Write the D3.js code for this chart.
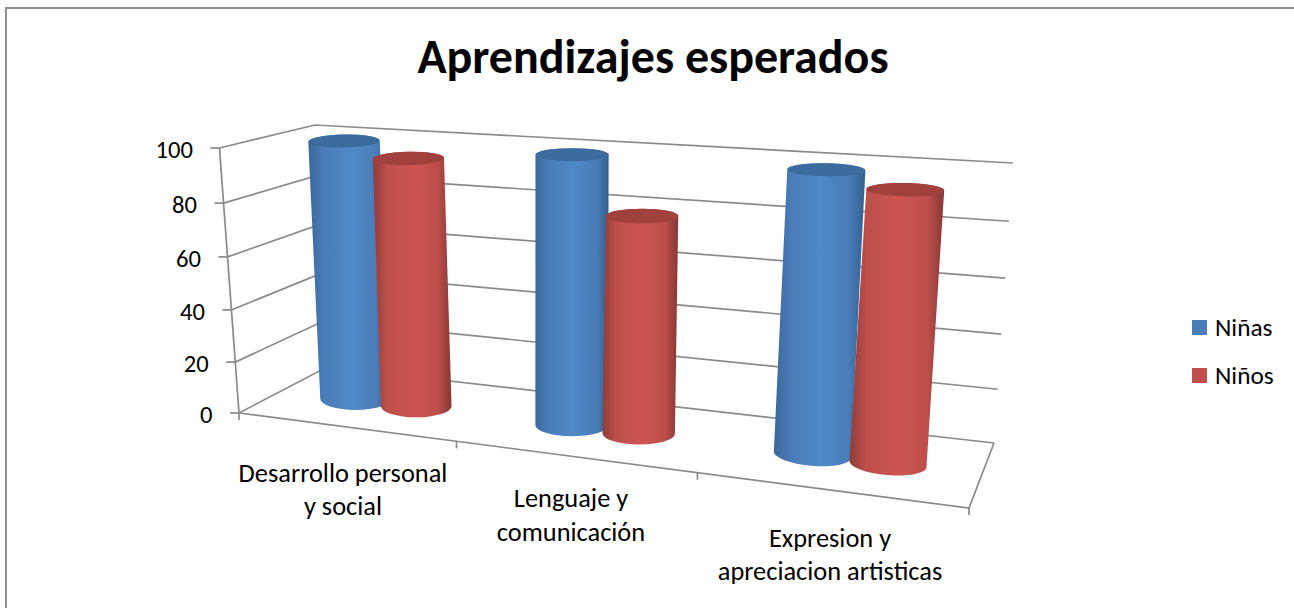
<!DOCTYPE html>
<html><head><meta charset="utf-8">
<style>html,body{margin:0;padding:0;background:#fff}svg{display:block}text{font-family:Carlito,Lato,sans-serif;fill:#000}</style>
<script src="https://cdn.jsdelivr.net/npm/d3@7"></script></head><body>
<svg id="c" width="1294" height="608"></svg>
<script>
const title = "Aprendizajes esperados";
const categories = [["Desarrollo personal","y social"],["Lenguaje y","comunicación"],["Expresion y","apreciacion artisticas"]];
const seriesNames = ["Niñas","Niños"];
const ninas = [100,100,100];
const ninos = [95,80,95];
const valueTicks = [0,20,40,60,80,100];

const colors = ["#4A7CB8","#BE4F4C"];
const dark = ["#33608f","#873735"];
const edge = ["#3a6898","#8e3d3a"];
const mid = ["#5089c9","#cd5451"];
const topFill = ["#3c6c9e","#a1413e"];
const gridColor = "#8a8a8a";

const svg = d3.select("#c");
const defs = svg.append("defs");
[0,1].forEach(i=>{
  const g = defs.append("linearGradient").attr("id","g"+i).attr("x1",0).attr("x2",1).attr("y1",0).attr("y2",0);
  [[0,edge[i]],[.18,colors[i]],[.52,mid[i]],[.82,colors[i]],[1,dark[i]]].forEach(s=>g.append("stop").attr("offset",s[0]).attr("stop-color",s[1]));
});

// frame: only the top and left edges show in the picture
svg.append("path").attr("d",d3.line()([[1294,8],[6,8],[6,608]])).attr("fill","none").attr("stroke","#8e8e8e").attr("stroke-width",2);

// scales: the projected box
const xFrac = d3.scaleLinear().domain([0,1,2,3]).range([0,.298,.628,1]);
const vFrac = d3.scaleLinear().domain(valueTicks).range([0,.192,.389,.589,.792,1]);
const corners = {
  flb:[239,413], flt:[219.5,148], blb:[327,367], blt:[315,125],
  frb:[969,508], frt:[997,198], brb:[994,443], brt:[1013,163]
};
function project(c,d,v){
  const u=xFrac(c), w=vFrac(v);
  const f=(a,b,k)=>[a[0]+(b[0]-a[0])*k,a[1]+(b[1]-a[1])*k];
  const fb=f(f(corners.flb,corners.frb,u),f(corners.flt,corners.frt,u),w);
  const bk=f(f(corners.blb,corners.brb,u),f(corners.blt,corners.brt,u),w);
  return f(fb,bk,d);
}
const line = d3.line();
function seg(pts,w){svg.append("path").attr("d",line(pts)).attr("fill","none").attr("stroke",gridColor).attr("stroke-width",w||1.7);}

// walls and grid
valueTicks.forEach(v=>{
  seg([project(0,0,v),project(0,1,v),project(3,1,v)]);
  const p=project(0,0,v);
  seg([[p[0]-9,p[1]],p]);
  svg.append("text").attr("x",p[0]-26.5).attr("y",p[1]+10).attr("text-anchor","end").attr("font-size",24.6).text(v);
});
seg([project(0,0,0),project(0,0,100)]);
seg([project(0,0,0),project(3,0,0),project(3,1,0)]);
d3.range(0,4).forEach(c=>{const p=project(c,0,0);seg([p,[p[0],p[1]+7]]);});

// cylinders
const radii=[.162,.15,.142], center=-.008, offset=[-.143,.148], depth=.5, bottomWiden=1.04;
const ryScale=d3.scaleLinear().domain([0,100]).range([11,6.5]);
const angBottom=[0,.5,5], angTop=[-1,0,1];
function cyl(c,i,val){
  const x=c+.5+center+offset[i], r=radii[c];
  const ends=(v,k)=>{
    const p=project(x,depth,v), a=project(x-r,depth,v), b=project(x+r,depth,v);
    return {p,hw:k*Math.hypot(b[0]-a[0],b[1]-a[1])/2};
  };
  const pts=(e,deg)=>{
    const t=deg*Math.PI/180,dx=e.hw*Math.cos(t),dy=e.hw*Math.sin(t);
    return [[e.p[0]-dx,e.p[1]-dy],[e.p[0]+dx,e.p[1]+dy]];
  };
  const e0=ends(0,bottomWiden), e1=ends(val,1);
  const [a0,b0]=pts(e0,angBottom[c]), [a1,b1]=pts(e1,angTop[c]);
  const ry0=ryScale(0), ry1=ryScale(val);
  const body=`M${a1}L${a0}A${e0.hw},${ry0} ${angBottom[c]} 0 0 ${b0}L${b1}A${e1.hw},${ry1} ${angTop[c]} 0 0 ${a1}Z`;
  svg.append("path").attr("d",body).attr("fill",`url(#g${i})`);
  const top=`M${a1}A${e1.hw},${ry1} ${angTop[c]} 0 1 ${b1}A${e1.hw},${ry1} ${angTop[c]} 0 1 ${a1}Z`;
  svg.append("path").attr("d",top).attr("fill",topFill[i]);
}
categories.forEach((_,c)=>{cyl(c,0,ninas[c]);cyl(c,1,ninos[c]);});

// category labels
const catCx=[343,571,830], catY=[[482,515],[507,541],[547,580]];
categories.forEach((lines,c)=>lines.forEach((t,j)=>{
  svg.append("text").attr("x",catCx[c]).attr("y",catY[c][j]).attr("text-anchor","middle").attr("font-size",26.4).text(t);
}));

// title
svg.append("text").attr("x",653).attr("y",73).attr("text-anchor","middle").attr("font-size",48).attr("font-weight",700).text(title);

// legend
seriesNames.forEach((n,i)=>{
  const y=320+48*i;
  svg.append("rect").attr("x",1192).attr("y",y).attr("width",15).attr("height",15).attr("fill",colors[i]);
  svg.append("text").attr("x",1215).attr("y",y+16).attr("font-size",25.3).text(n);
});
</script></body></html>
